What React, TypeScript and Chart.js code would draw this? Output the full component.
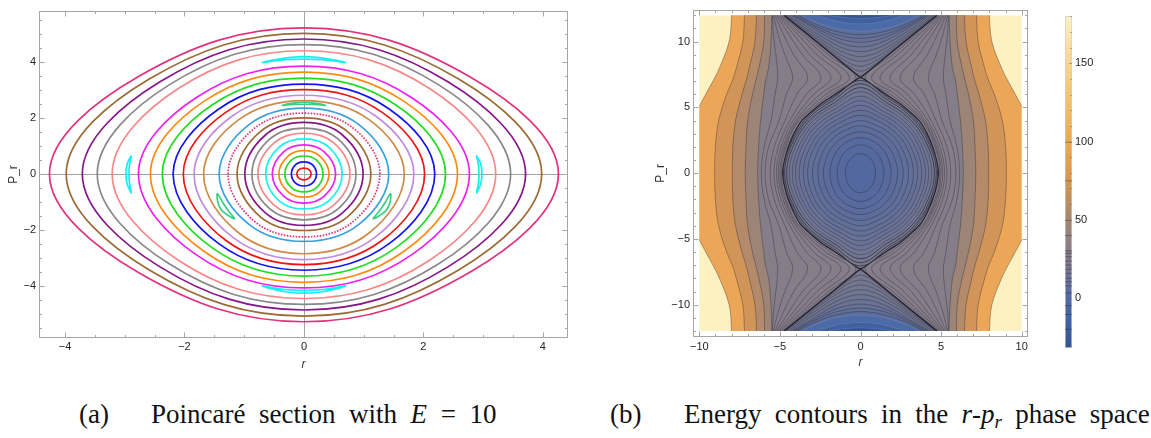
import React, { useEffect, useRef } from "react";
import { Chart, registerables } from "chart.js";

Chart.register(...registerables);

type Pt = [number, number];

// ======================= Panel (a): Poincaré section, E = 10 =======================
const A_R_MIN = -4.435;
const A_R_MAX = 4.42;
const A_P_MIN = -5.86;
const A_P_MAX = 5.82;
const A_R_TICKS = [-4, -2, 0, 2, 4];
const A_P_TICKS = [-4, -2, 0, 2, 4];
const A_R_MINOR = [-4, -3.5, -3, -2.5, -2, -1.5, -1, -0.5, 0, 0.5, 1, 1.5, 2, 2.5, 3, 3.5, 4];
const A_P_MINOR = [-5.5, -5, -4.5, -4, -3.5, -3, -2.5, -2, -1.5, -1, -0.5, 0, 0.5, 1, 1.5, 2, 2.5, 3, 3.5, 4, 4.5, 5, 5.5];

// invariant curves, outermost first
const CURVE_R = [4.26, 3.98, 3.71, 3.46, 3.21, 2.77, 2.57, 2.37, 2.19, 2.02, 1.84, 1.68, 1.42, 1.27, 1.12, 0.99, 0.87, 0.77, 0.64, 0.53, 0.42, 0.32, 0.21, 0.12];
const CURVE_P_TOP = [5.22, 5.02, 4.82, 4.62, 4.4, 3.85, 3.64, 3.42, 3.21, 3.01, 2.81, 2.62, 2.35, 2.17, 2.0, 1.84, 1.64, 1.46, 1.25, 1.04, 0.83, 0.64, 0.43, 0.21];
const CURVE_P_BOTTOM = [5.28, 5.08, 4.86, 4.66, 4.45, 4.07, 3.87, 3.65, 3.44, 3.24, 3.06, 2.85, 2.41, 2.25, 2.02, 1.84, 1.64, 1.46, 1.25, 1.04, 0.83, 0.64, 0.43, 0.21];
const SHOULDER_R = [2.77, 2.59, 2.41, 2.25, 2.09, 1.8, 1.67, 1.54, 1.42, 1.31, 1.2, 1.09, 0.92, 0.83, 0.73, 0.64, 0.57, 0.5, 0.42, 0.34, 0.27, 0.21, 0.14, 0.08];
const SHOULDER_P_TOP = [3.48, 3.39, 3.29, 3.19, 3.07, 2.73, 2.6, 2.46, 2.33, 2.2, 2.07, 1.94, 1.76, 1.63, 1.51, 1.4, 1.25, 1.11, 0.95, 0.79, 0.63, 0.49, 0.33, 0.16];
const SHOULDER_P_BOTTOM = [3.52, 3.43, 3.32, 3.22, 3.1, 2.89, 2.77, 2.63, 2.5, 2.37, 2.25, 2.11, 1.8, 1.69, 1.53, 1.4, 1.25, 1.11, 0.95, 0.79, 0.63, 0.49, 0.33, 0.16];
const CURVE_COLORS = [
  "#e3327c", "#9c6a34", "#86168a", "#888888", "#f78888", "#f020f0", "#ff8a10", "#22dd22",
  "#1414f0", "#f01414", "#c08ce0", "#cd8a48", "#3aa2e0", "#e0306e", "#9c6a34", "#86168a",
  "#888888", "#f78888", "#18f0f0", "#f020f0", "#ff8a10", "#22dd22", "#1414f0", "#f01414",
];
const DOTTED_CURVE = 13;

// resonance island chains
const CYAN_ISLANDS: Pt[][] = [
  [[-0.7, 3.98], [-0.35, 4.13], [0, 4.19], [0.35, 4.13], [0.7, 3.98], [0.35, 4.07], [0, 4.1], [-0.35, 4.07]],
  [[-0.7, -4.0], [-0.35, -4.2], [0, -4.26], [0.35, -4.2], [0.7, -4.0], [0.35, -4.12], [0, -4.16], [-0.35, -4.12]],
  [[2.89, 0.65], [2.96, 0.35], [2.98, 0], [2.96, -0.35], [2.89, -0.68], [2.92, -0.33], [2.93, 0], [2.92, 0.33]],
  [[-2.89, 0.65], [-2.96, 0.35], [-2.98, 0], [-2.96, -0.35], [-2.89, -0.68], [-2.92, -0.33], [-2.93, 0], [-2.92, 0.33]],
];
const GREEN_ISLANDS: Pt[][] = [
  [[-0.36, 2.45], [-0.18, 2.53], [0, 2.56], [0.18, 2.53], [0.36, 2.45], [0.18, 2.48], [0, 2.49], [-0.18, 2.48]],
  [[1.45, -0.7], [1.44, -1.02], [1.36, -1.34], [1.16, -1.6], [1.26, -1.33], [1.36, -1.02]],
  [[-1.45, -0.7], [-1.44, -1.02], [-1.36, -1.34], [-1.16, -1.6], [-1.26, -1.33], [-1.36, -1.02]],
];

// ======================= Panel (b): energy contours =======================
const B_R_MIN = -10.39;
const B_R_MAX = 10.39;
const B_P_MIN = -12.45;
const B_P_MAX = 12.43;
const B_DATA_R = [-10, 10];
const B_DATA_P = [-12, 12];
const B_R_TICKS = [-10, -5, 0, 5, 10];
const B_P_TICKS = [-10, -5, 0, 5, 10];
const B_R_MINOR = [-10, -9, -8, -7, -6, -5, -4, -3, -2, -1, 0, 1, 2, 3, 4, 5, 6, 7, 8, 9, 10];
const B_P_MINOR = [-12, -11, -10, -9, -8, -7, -6, -5, -4, -3, -2, -1, 0, 1, 2, 3, 4, 5, 6, 7, 8, 9, 10, 11, 12];

// outer level curves r(p) on the right half (mirrored); 13 is just above the plotted range
const P_BAND = [13, 12, 10, 8, 7, 6, 4, 2, 0];
const EDGE_YELLOW = [8.0, 8.0, 8.15, 8.75, 9.15, 9.6, 10.4, 10.7, 10.8];
const EDGE_ORANGE = [7.2, 7.2, 7.3, 7.7, 7.95, 8.3, 8.8, 9.0, 9.05];
const EDGE_DARK_ORANGE = [6.45, 6.45, 6.55, 6.9, 7.1, 7.35, 7.75, 7.92, 7.95];
const EDGE_TAN = [5.95, 5.95, 6.0, 6.3, 6.5, 6.7, 7.0, 7.1, 7.15];
const EDGE_GRAY = [5.5, 5.5, 5.55, 5.7, 5.9, 6.0, 6.2, 6.32, 6.38];

// hourglass contours just outside the separatrix
const P_GRAY = [12, 10.5, 9, 7.26, 6, 4, 2, 0];
const GRAY_LINES = [
  [4.82, 3.42, 2.0, 0.28, 1.85, 3.8, 4.62, 4.92],
  [4.9, 3.62, 2.3, 0.69, 2.15, 3.9, 4.7, 5.0],
  [5.0, 3.86, 2.7, 1.21, 2.5, 4.02, 4.8, 5.1],
  [5.1, 4.12, 3.15, 1.83, 2.9, 4.18, 4.93, 5.22],
  [5.2, 4.42, 3.6, 2.45, 3.35, 4.38, 5.1, 5.37],
  [5.3, 4.76, 4.15, 3.28, 3.95, 4.68, 5.35, 5.6],
  [5.4, 5.1, 4.7, 4.21, 4.6, 5.05, 5.7, 5.92],
  [5.46, 5.4, 5.25, 5.14, 5.3, 5.55, 5.98, 6.15],
];

// separatrix X through the saddle (0, ±7.26)
const X_ARM: Pt[] = [[0, 7.26], [4.74, 12]];
const SEPARATRIX: Pt[] = [[0, 7.26], [0.8, 6.62], [1.69, 5.89], [2.45, 5.28], [3.14, 4.57], [3.7, 3.9], [4.11, 3.06], [4.45, 2.1], [4.7, 1.05], [4.83, 0]];

// closed orbits inside the separatrix (first quadrant, top -> right), innermost first
const B_LOOPS: Pt[][] = [
  [[0, 1.48], [0.33, 1.39], [0.6, 1.12], [0.82, 0.7], [0.93, 0]],
  [[0, 2.15], [0.51, 2.0], [0.94, 1.62], [1.28, 1.01], [1.45, 0]],
  [[0, 2.7], [0.67, 2.49], [1.24, 2.02], [1.67, 1.25], [1.9, 0]],
  [[0, 3.15], [0.81, 2.89], [1.5, 2.33], [2.02, 1.44], [2.3, 0]],
  [[0, 3.6], [0.93, 3.28], [1.72, 2.64], [2.33, 1.63], [2.65, 0]],
  [[0, 4.0], [1.04, 3.6], [1.94, 2.9], [2.62, 1.77], [2.98, 0]],
  [[0, 4.4], [1.15, 3.92], [2.13, 3.14], [2.89, 1.91], [3.28, 0]],
  [[0, 4.78], [1.24, 4.21], [2.31, 3.35], [3.12, 2.02], [3.55, 0]],
  [[0, 5.15], [1.33, 4.47], [2.47, 3.55], [3.34, 2.13], [3.8, 0]],
  [[0, 5.5], [1.41, 4.71], [2.62, 3.73], [3.55, 2.22], [4.03, 0]],
  [[0, 5.85], [1.48, 4.95], [2.75, 3.9], [3.72, 2.29], [4.23, 0]],
  [[0, 6.2], [1.55, 5.18], [2.87, 4.07], [3.89, 2.37], [4.42, 0]],
  [[0, 6.5], [1.6, 5.37], [2.98, 4.21], [4.03, 2.44], [4.58, 0]],
  [[0, 6.8], [1.65, 5.57], [3.06, 4.35], [4.14, 2.5], [4.7, 0]],
  [[0, 7.05], [1.67, 5.74], [3.11, 4.47], [4.21, 2.57], [4.78, 0]],
];

// contours in the wedge above (and mirrored below) the saddle: right half from vertex to p = 12
const UPPER_ARCS: Pt[][] = [
  [[0, 7.4], [0.4, 7.68], [1.2, 8.46], [2.4, 9.66], [3.6, 10.86], [4.74, 12]],
  [[0, 7.75], [0.5, 7.96], [1.2, 8.56], [2.4, 9.71], [3.6, 10.89], [4.71, 12]],
  [[0, 8.12], [0.6, 8.31], [1.4, 8.9], [2.6, 10.0], [3.6, 10.96], [4.66, 12]],
  [[0, 8.49], [0.8, 8.73], [1.6, 9.28], [2.8, 10.32], [4.58, 12]],
  [[0, 8.86], [0.8, 9.05], [1.8, 9.67], [3.0, 10.66], [4.46, 12]],
  [[0, 9.23], [1.0, 9.47], [2.0, 10.07], [3.2, 11.02], [4.31, 12]],
  [[0, 9.6], [1.0, 9.8], [2.2, 10.47], [3.4, 11.39], [4.2, 12]],
  [[0, 9.95], [1.2, 10.18], [2.4, 10.8], [3.5, 11.55], [4.12, 12]],
  [[0, 10.25], [1.3, 10.47], [2.5, 11.0], [3.5, 11.65], [3.98, 12]],
  [[0, 10.52], [1.4, 10.74], [2.6, 11.22], [3.85, 12]],
  [[0, 10.8], [1.4, 10.98], [2.6, 11.4], [3.7, 12]],
  [[0, 11.35], [1.4, 11.52], [2.7, 12]],
  [[0, 11.75], [1.2, 11.85], [2.0, 12]],
];

// ======================= Colour bar =======================
const CB_MIN = -31.9;
const CB_MAX = 180.2;
const CB_TICKS = [0, 50, 100, 150];
const CB_MINOR = [-30, -20, -10, 0, 10, 20, 30, 40, 50, 60, 70, 80, 90, 100, 110, 120, 130, 140, 150, 160, 170, 180];
const CB_LEVELS = [-20, -10.5, -4.9, 3.2, 7.8, 10.5, 12.7, 15.8, 18.4, 21.1, 23.6, 26.4, 28.5, 30.2, 40, 49.6, 74.9, 99.6];

// ----- styles -----
const SANS = "'Liberation Sans', Arial, sans-serif";
const SERIF = "'Liberation Serif', 'Times New Roman', serif";
const BG_FILL = "#fdf0c1";
const BAND_FILLS = ["#eba757", "#d29559", "#b38b6b", "#9c8577", "#857e89"];
const S_FILL = "#7b7a91";
const LOOP_EDGE_FILL = "#78788f";
const LOOP_CENTER_FILL = "#52689f";
const ARC_FILLS = ["#78798f", "#76788f", "#74778f", "#72768f", "#70768f", "#6d7491", "#6a7393", "#667195", "#627098", "#5d6e9b", "#4c6aa6", "#41609f", "#37558f"];
const LINE_COLOR = "rgba(35,32,45,0.5)";
const SEP_COLOR = "rgba(25,25,38,0.85)";
const CB_STOPS: [number, string][] = [
  [-31.9, "#2f5592"], [-15, "#3f62a3"], [0, "#5069a6"], [10, "#666f9b"], [20, "#7a7790"],
  [35, "#8e7f84"], [50, "#a4866f"], [62, "#be8d5d"], [75, "#d7964f"], [100, "#eba94f"],
  [125, "#f3bf6c"], [150, "#f8d58e"], [180.2, "#fdf0c2"],
];

// ======================= helpers =======================
const fmt = (v: number) => (v < 0 ? "\u2212" + Math.abs(v) : String(v));

function mix(c1: string, c2: string, t: number) {
  const a = [1, 3, 5].map((i) => parseInt(c1.slice(i, i + 2), 16));
  const b = [1, 3, 5].map((i) => parseInt(c2.slice(i, i + 2), 16));
  return "rgb(" + a.map((v, k) => Math.round(v + (b[k] - v) * t)).join(",") + ")";
}

function ds(points: Pt[], o: any) {
  return {
    data: points.map(([x, y]) => ({ x, y })),
    showLine: true,
    pointRadius: 0,
    pointHoverRadius: 0,
    borderWidth: 0.7,
    fill: false,
    ...o,
  };
}

function quadToLoop(q: Pt[]): Pt[] {
  const n = q.length - 1;
  const out: Pt[] = [];
  for (let i = 0; i <= n; i++) out.push([q[i][0], q[i][1]]);
  for (let i = n - 1; i >= 0; i--) out.push([q[i][0], -q[i][1]]);
  for (let i = 1; i <= n; i++) out.push([-q[i][0], -q[i][1]]);
  for (let i = n - 1; i >= 1; i--) out.push([-q[i][0], q[i][1]]);
  return out;
}

function bandRegion(rs: number[]): Pt[] {
  const right: Pt[] = [];
  for (let i = 0; i < P_BAND.length; i++) right.push([rs[i], P_BAND[i]]);
  for (let i = P_BAND.length - 2; i >= 0; i--) right.push([rs[i], -P_BAND[i]]);
  const left: Pt[] = right.slice().reverse().map(([x, y]) => [-x, y] as Pt);
  return [...right, ...left];
}

function grayLine(rs: number[], side: number): Pt[] {
  const out: Pt[] = [];
  for (let i = 0; i < P_GRAY.length; i++) out.push([side * rs[i], P_GRAY[i]]);
  for (let i = P_GRAY.length - 2; i >= 0; i--) out.push([side * rs[i], -P_GRAY[i]]);
  return out;
}

function fullArc(half: Pt[], sign: number): Pt[] {
  const left: Pt[] = half.slice(1).reverse().map(([x, y]) => [-x, sign * y] as Pt);
  const right: Pt[] = half.map(([x, y]) => [x, sign * y] as Pt);
  return [...left, ...right];
}

const closedLoops = {
  id: "closedLoops",
  afterDatasetUpdate(chart: any, args: any) {
    const d = chart.data.datasets[args.index];
    const line = args.meta && args.meta.dataset;
    if (d && d.closedLoop && line) {
      line._loop = true;
      line._fullLoop = true;
      delete line._segments;
      line._pointsUpdated = false;
      line._path = undefined;
    }
  },
};

function frameTicks(o: {
  xMajor: number[]; xMinor: number[]; yMajor: number[]; yMinor: number[];
  axes?: boolean; clip?: [number, number, number, number];
}) {
  return {
    id: "frameTicks",
    beforeDatasetsDraw(chart: any) {
      const { ctx, chartArea: ca } = chart;
      const xs = chart.scales.x, ys = chart.scales.y;
      if (o.axes) {
        ctx.save();
        ctx.strokeStyle = "#a2a2a2";
        ctx.lineWidth = 1;
        const x0 = Math.round(xs.getPixelForValue(0)) + 0.5;
        const y0 = Math.round(ys.getPixelForValue(0)) + 0.5;
        ctx.beginPath();
        ctx.moveTo(x0, ca.top);
        ctx.lineTo(x0, ca.bottom);
        ctx.moveTo(ca.left, y0);
        ctx.lineTo(ca.right, y0);
        ctx.stroke();
        ctx.restore();
      }
      if (o.clip) {
        const [x1, x2, y1, y2] = o.clip;
        const l = xs.getPixelForValue(x1), r = xs.getPixelForValue(x2);
        const t = ys.getPixelForValue(y2), b = ys.getPixelForValue(y1);
        ctx.save();
        ctx.beginPath();
        ctx.rect(l, t, r - l, b - t);
        ctx.clip();
      }
    },
    afterDatasetsDraw(chart: any) {
      if (o.clip) chart.ctx.restore();
    },
    afterDraw(chart: any) {
      const { ctx, chartArea: ca } = chart;
      const xs = chart.scales.x, ys = chart.scales.y;
      ctx.save();
      ctx.strokeStyle = "#a6a6a6";
      ctx.lineWidth = 1;
      const L = Math.round(ca.left) + 0.5, R = Math.round(ca.right) - 0.5;
      const T = Math.round(ca.top) + 0.5, B = Math.round(ca.bottom) - 0.5;
      ctx.strokeRect(L, T, R - L, B - T);
      ctx.beginPath();
      const xt = (v: number, len: number) => {
        const px = Math.round(xs.getPixelForValue(v)) + 0.5;
        ctx.moveTo(px, B); ctx.lineTo(px, B - len);
        ctx.moveTo(px, T); ctx.lineTo(px, T + len);
      };
      const yt = (v: number, len: number) => {
        const py = Math.round(ys.getPixelForValue(v)) + 0.5;
        ctx.moveTo(L, py); ctx.lineTo(L + len, py);
        ctx.moveTo(R, py); ctx.lineTo(R - len, py);
      };
      o.xMajor.forEach((v) => xt(v, 5));
      o.xMinor.filter((v) => !o.xMajor.includes(v)).forEach((v) => xt(v, 2.5));
      o.yMajor.forEach((v) => yt(v, 5));
      o.yMinor.filter((v) => !o.yMajor.includes(v)).forEach((v) => yt(v, 2.5));
      ctx.stroke();
      ctx.restore();
    },
  };
}

function axis(min: number, max: number, ticks: number[], o: { horizontal: boolean; size: number; pad: number; title: string; italic?: boolean; titlePad: number }) {
  return {
    type: "linear",
    min,
    max,
    afterBuildTicks: (s: any) => { s.ticks = ticks.map((v) => ({ value: v })); },
    afterFit: (s: any) => { if (o.horizontal) s.height = o.size; else s.width = o.size; },
    grid: { display: false, drawTicks: false },
    border: { display: false },
    ticks: { padding: o.pad, color: "#262626", font: { family: SANS, size: 11 }, callback: (v: any) => fmt(Number(v)), autoSkip: false, maxRotation: 0 },
    title: {
      display: true,
      text: o.title,
      color: "#333",
      font: { family: SANS, size: 12, style: o.italic ? "italic" : "normal" },
      padding: o.horizontal ? { top: 0, bottom: o.titlePad } : { top: o.titlePad, bottom: 0 },
    },
  };
}

function baseOptions(padding: any, x: any, y: any) {
  return {
    animation: false,
    responsive: false,
    maintainAspectRatio: false,
    events: [],
    layout: { padding },
    elements: { line: { capBezierPoints: false, borderJoinStyle: "round" }, point: { radius: 0 } },
    plugins: { legend: { display: false }, tooltip: { enabled: false } },
    scales: { x, y },
  };
}

// ======================= chart configs =======================
function configA(): any {
  const datasets: any[] = [];
  CURVE_R.forEach((a, i) => {
    const dr = SHOULDER_R[i];
    const loop: Pt[] = [
      [a, 0], [dr, SHOULDER_P_TOP[i]], [0, CURVE_P_TOP[i]], [-dr, SHOULDER_P_TOP[i]],
      [-a, 0], [-dr, -SHOULDER_P_BOTTOM[i]], [0, -CURVE_P_BOTTOM[i]], [dr, -SHOULDER_P_BOTTOM[i]],
    ];
    datasets.push(ds(loop, {
      closedLoop: true,
      tension: 0.38,
      borderColor: CURVE_COLORS[i],
      borderWidth: 1.7,
      borderDash: i === DOTTED_CURVE ? [1.6, 1.4] : [],
    }));
  });
  CYAN_ISLANDS.forEach((isl) => datasets.push(ds(isl, { closedLoop: true, tension: 0.3, borderColor: "#18f0f0", borderWidth: 1.7 })));
  GREEN_ISLANDS.forEach((isl) => datasets.push(ds(isl, { closedLoop: true, tension: 0.3, borderColor: "#3ccf85", borderWidth: 1.7 })));
  return {
    type: "scatter",
    data: { datasets },
    options: baseOptions(
      { left: 0, top: 11, right: 12, bottom: 0 },
      axis(A_R_MIN, A_R_MAX, A_R_TICKS, { horizontal: true, size: 40, pad: 2, title: "r", italic: true, titlePad: 6 }),
      axis(A_P_MIN, A_P_MAX, A_P_TICKS, { horizontal: false, size: 39, pad: 3, title: "P_r", titlePad: 6 }),
    ),
    plugins: [closedLoops, frameTicks({ xMajor: A_R_TICKS, xMinor: A_R_MINOR, yMajor: A_P_TICKS, yMinor: A_P_MINOR, axes: true })],
  };
}

function configB(): any {
  const list: any[] = [];
  const rect: Pt[] = [[B_DATA_R[0], B_DATA_P[0]], [B_DATA_R[1], B_DATA_P[0]], [B_DATA_R[1], B_DATA_P[1]], [B_DATA_R[0], B_DATA_P[1]]];
  list.push(ds(rect, { fill: "shape", backgroundColor: BG_FILL, borderWidth: 0 }));
  [EDGE_YELLOW, EDGE_ORANGE, EDGE_DARK_ORANGE, EDGE_TAN, EDGE_GRAY].forEach((edge, k) =>
    list.push(ds(bandRegion(edge), { fill: "shape", backgroundColor: BAND_FILLS[k], borderColor: LINE_COLOR, tension: 0.35 })),
  );
  GRAY_LINES.forEach((g) => {
    list.push(ds(grayLine(g, 1), { borderColor: LINE_COLOR, tension: 0.35 }));
    list.push(ds(grayLine(g, -1), { borderColor: LINE_COLOR, tension: 0.35 }));
  });
  UPPER_ARCS.forEach((arc, k) => {
    [1, -1].forEach((sign) =>
      list.push(ds(fullArc(arc, sign), { fill: "shape", backgroundColor: ARC_FILLS[k], borderColor: k < 10 ? LINE_COLOR : "rgba(110,140,200,0.6)", tension: 0.35 })),
    );
  });
  [1, -1].forEach((sign) =>
    list.push(ds(fullArc(X_ARM, sign), { borderColor: SEP_COLOR, borderWidth: 1.3, tension: 0 })),
  );
  list.push(ds(quadToLoop(SEPARATRIX), { closedLoop: true, fill: "shape", backgroundColor: S_FILL, borderColor: SEP_COLOR, borderWidth: 1.3, tension: 0.25 }));
  for (let i = B_LOOPS.length - 1; i >= 0; i--) {
    const t = i / (B_LOOPS.length - 1);
    list.push(ds(quadToLoop(B_LOOPS[i]), {
      closedLoop: true,
      fill: "shape",
      backgroundColor: mix(LOOP_CENTER_FILL, LOOP_EDGE_FILL, t),
      borderColor: i >= 12 ? "rgba(30,30,42,0.7)" : LINE_COLOR,
      borderWidth: i >= 12 ? 0.9 : 0.7,
      tension: 0.38,
    }));
  }
  list.forEach((d, i) => (d.order = -i));
  return {
    type: "scatter",
    data: { datasets: list },
    options: baseOptions(
      { left: 0, top: 1, right: 12, bottom: 0 },
      axis(B_R_MIN, B_R_MAX, B_R_TICKS, { horizontal: true, size: 41, pad: 3, title: "r", italic: true, titlePad: 8 }),
      axis(B_P_MIN, B_P_MAX, B_P_TICKS, { horizontal: false, size: 53, pad: 3, title: "P_r", titlePad: 13 }),
    ),
    plugins: [closedLoops, frameTicks({ xMajor: B_R_TICKS, xMinor: B_R_MINOR, yMajor: B_P_TICKS, yMinor: B_P_MINOR, clip: [B_DATA_R[0], B_DATA_R[1], B_DATA_P[0], B_DATA_P[1]] })],
  };
}

function configCB(): any {
  const cbTicks = {
    id: "cbTicks",
    afterDatasetsDraw(chart: any) {
      const { ctx, chartArea: ca } = chart;
      const ys = chart.scales.y;
      ctx.save();
      ctx.strokeStyle = "rgba(120,110,110,0.55)";
      ctx.lineWidth = 1;
      ctx.beginPath();
      CB_MINOR.forEach((v) => {
        if (v < CB_MIN || v > CB_MAX) return;
        const py = Math.round(ys.getPixelForValue(v)) + 0.5;
        const len = CB_TICKS.includes(v) ? 3 : 1.8;
        ctx.moveTo(ca.right, py);
        ctx.lineTo(ca.right - len, py);
      });
      ctx.stroke();
      ctx.restore();
    },
  };
  return {
    type: "bar",
    data: {
      labels: ["cb"],
      datasets: [
        {
          type: "scatter",
          data: CB_LEVELS.map((v) => ({ x: "cb", y: v })),
          pointStyle: "line",
          pointRadius: 3.5,
          pointHoverRadius: 3.5,
          borderColor: "rgba(45,40,55,0.5)",
          borderWidth: 0.8,
          order: -1,
        },
        {
          type: "bar",
          data: [[CB_MIN, CB_MAX]],
          barPercentage: 1,
          categoryPercentage: 1,
          borderWidth: 1,
          borderColor: "#cfcfcf",
          borderSkipped: false,
          order: 0,
          backgroundColor: (c: any) => {
            const chart = c.chart;
            if (!chart.chartArea) return "#999";
            const ys = chart.scales.y;
            const g = chart.ctx.createLinearGradient(0, ys.getPixelForValue(CB_MIN), 0, ys.getPixelForValue(CB_MAX));
            CB_STOPS.forEach(([v, col]) => g.addColorStop((v - CB_MIN) / (CB_MAX - CB_MIN), col));
            return g;
          },
        },
      ],
    },
    options: {
      animation: false,
      responsive: false,
      maintainAspectRatio: false,
      events: [],
      layout: { padding: { left: 25, top: 16, right: 0, bottom: 30 } },
      plugins: { legend: { display: false }, tooltip: { enabled: false } },
      scales: {
        x: { display: false },
        y: {
          position: "right",
          min: CB_MIN,
          max: CB_MAX,
          afterBuildTicks: (s: any) => { s.ticks = CB_TICKS.map((v) => ({ value: v })); },
          afterFit: (s: any) => { s.width = 79; },
          grid: { display: false, drawTicks: false },
          border: { display: false },
          ticks: { padding: 3, color: "#262626", font: { family: SANS, size: 11 } },
        },
      },
    },
    plugins: [cbTicks],
  };
}

function useChart(ref: React.RefObject<HTMLCanvasElement | null>, make: () => any) {
  useEffect(() => {
    if (!ref.current) return;
    const chart = new Chart(ref.current, make());
    return () => chart.destroy();
  }, []);
}

const captionStyle: React.CSSProperties = {
  position: "absolute",
  top: 398,
  fontFamily: SERIF,
  fontSize: 27,
  lineHeight: "32px",
  whiteSpace: "nowrap",
  color: "#111",
};

export default function App() {
  const refA = useRef<HTMLCanvasElement>(null);
  const refB = useRef<HTMLCanvasElement>(null);
  const refC = useRef<HTMLCanvasElement>(null);
  useChart(refA, configA);
  useChart(refB, configB);
  useChart(refC, configCB);
  return (
    <div style={{ position: "absolute", left: 0, top: 0, width: 1151, height: 438, background: "#fff", overflow: "hidden" }}>
      <canvas ref={refA} width={580} height={378} style={{ position: "absolute", left: 0, top: 0 }} />
      <canvas ref={refB} width={400} height={378} style={{ position: "absolute", left: 640, top: 0 }} />
      <canvas ref={refC} width={111} height={378} style={{ position: "absolute", left: 1040, top: 0 }} />
      <div style={{ ...captionStyle, left: 79 }}>(a)</div>
      <div style={{ ...captionStyle, left: 151, wordSpacing: "6.8px" }}>
        Poincaré section with <i>E</i> = 10
      </div>
      <div style={{ ...captionStyle, left: 610 }}>(b)</div>
      <div style={{ ...captionStyle, left: 684, wordSpacing: "6.5px" }}>
        Energy contours in the <i>r</i>-<i>p</i>
        <sub style={{ fontSize: 19, lineHeight: 0, verticalAlign: "-5px" }}>
          <i>r</i>
        </sub>{" "}
        phase space
      </div>
    </div>
  );
}
